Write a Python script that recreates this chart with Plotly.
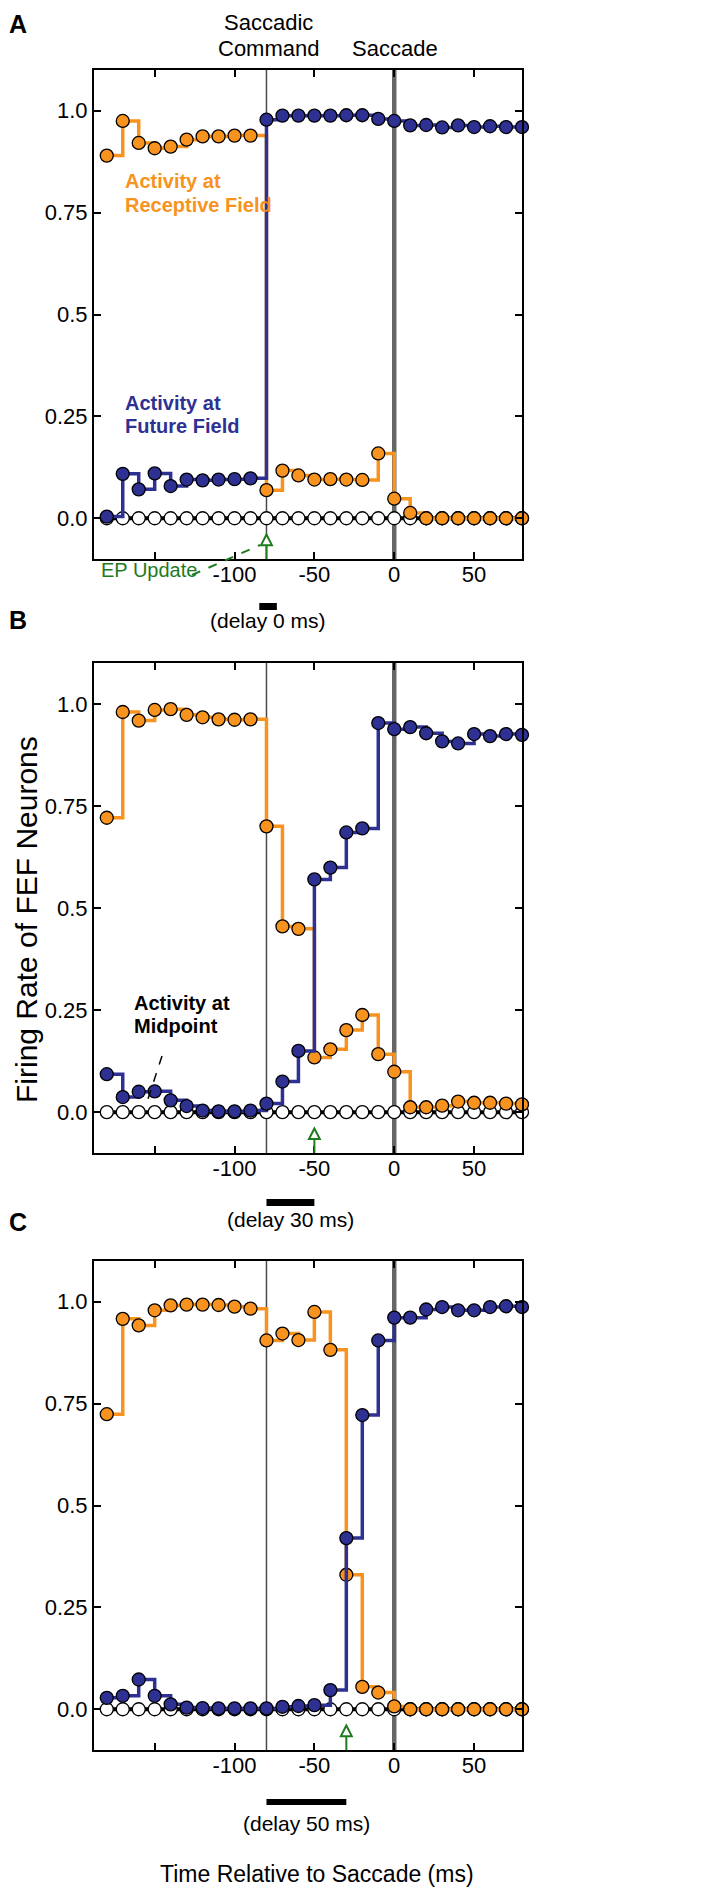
import plotly.graph_objects as go

FONT = "Liberation Sans, Arial, sans-serif"

ORANGE = "#F7931E"
NAVY = "#2E3192"
GREEN = "#1E7B1E"

time_ms = [-180, -170, -160, -150, -140, -130, -120, -110, -100, -90, -80, -70, -60, -50,
           -40, -30, -20, -10, 0, 10, 20, 30, 40, 50, 60, 70, 80]

# panel A (delay 0 ms)
rf_a = [0.890, 0.975, 0.921, 0.908, 0.912, 0.929, 0.937, 0.937, 0.939, 0.939, 0.069, 0.117, 0.105, 0.095,
        0.096, 0.095, 0.094, 0.159, 0.048, 0.013, 0.0, 0.0, 0.0, 0.0, 0.0, 0.0, 0.0]
ff_a = [0.004, 0.109, 0.071, 0.110, 0.079, 0.095, 0.093, 0.095, 0.096, 0.098, 0.978, 0.988, 0.988, 0.988,
        0.988, 0.989, 0.989, 0.980, 0.975, 0.964, 0.965, 0.959, 0.964, 0.960, 0.962, 0.960, 0.960]
mid_a = [0.0, 0.0, 0.0, 0.0, 0.0, 0.0, 0.0, 0.0, 0.0, 0.0, 0.0, 0.0, 0.0, 0.0,
         0.0, 0.0, 0.0, 0.0, 0.0, 0.0, 0.0, 0.0, 0.0, 0.0, 0.0, 0.0, 0.0]

# panel B (delay 30 ms)
rf_b = [0.721, 0.980, 0.959, 0.985, 0.987, 0.973, 0.967, 0.962, 0.961, 0.962, 0.700, 0.455, 0.449, 0.134,
        0.154, 0.201, 0.238, 0.142, 0.099, 0.012, 0.012, 0.016, 0.026, 0.023, 0.023, 0.021, 0.019]
ff_b = [0.093, 0.037, 0.050, 0.051, 0.029, 0.015, 0.004, 0.002, 0.002, 0.004, 0.021, 0.075, 0.150, 0.570,
        0.599, 0.685, 0.695, 0.953, 0.938, 0.943, 0.928, 0.908, 0.903, 0.926, 0.921, 0.926, 0.924]
mid_b = [0.0, 0.0, 0.0, 0.0, 0.0, 0.0, 0.0, 0.0, 0.0, 0.0, 0.0, 0.0, 0.0, 0.0,
         0.0, 0.0, 0.0, 0.0, 0.0, 0.0, 0.0, 0.0, 0.0, 0.0, 0.0, 0.0, 0.0]

# panel C (delay 50 ms)
rf_c = [0.724, 0.958, 0.942, 0.979, 0.991, 0.993, 0.993, 0.992, 0.988, 0.983, 0.905, 0.922, 0.906, 0.975,
        0.882, 0.330, 0.055, 0.041, 0.007, 0.0, 0.0, 0.0, 0.0, 0.0, 0.0, 0.0, 0.0]
ff_c = [0.028, 0.033, 0.073, 0.033, 0.012, 0.004, 0.003, 0.002, 0.002, 0.002, 0.002, 0.006, 0.008, 0.010,
        0.047, 0.420, 0.722, 0.905, 0.961, 0.961, 0.981, 0.987, 0.979, 0.979, 0.987, 0.989, 0.987]
mid_c = [0.0, 0.0, 0.0, 0.0, 0.0, 0.0, 0.0, 0.0, 0.0, 0.0, 0.0, 0.0, 0.0, 0.0,
         0.0, 0.0, 0.0, 0.0, 0.0, 0.0, 0.0, 0.0, 0.0, 0.0, 0.0, 0.0, 0.0]

panel_letters = ["A", "B", "C"]
delays = [0, 30, 50]
command_time = -80
saccade_time = 0
ep_update = [-80, -50, -30]
x_tickvals = [-150, -100, -50, 0, 50]
x_ticktext = ["", "-100", "-50", "0", "50"]
y_tickvals = [0, 0.25, 0.5, 0.75, 1.0]
y_ticktext = ["0.0", "0.25", "0.5", "0.75", "1.0"]

W, H = 709, 1893
L, R, T, B = 86, 514, 62, 1742


def px(x):
    return (x - L) / (R - L)


def py(y):
    return 1 - (y - T) / (B - T)


# pixel boxes of the three panels (top, bottom)
boxes = [(62, 551), (655, 1145), (1253, 1742)]
bars_y = [(595, 602), (1191, 1198), (1791, 1797)]
delay_label_y = [613, 1211, 1815]
letter_y = [16, 612, 1214]

fig = go.Figure()
panels = [(rf_a, ff_a, mid_a), (rf_b, ff_b, mid_b), (rf_c, ff_c, mid_c)]
shapes = []
annotations = []

for i, (rf, ff, mid) in enumerate(panels):
    xa = "x" if i == 0 else f"x{i + 1}"
    ya = "y" if i == 0 else f"y{i + 1}"
    common = dict(xaxis=xa, yaxis=ya, mode="lines+markers", cliponaxis=False,
                  showlegend=False, hoverinfo="x+y")
    fig.add_trace(go.Scatter(x=time_ms, y=mid, line=dict(color="black", width=4, shape="hv"),
                             marker=dict(size=13, color="white", line=dict(color="black", width=1.3)),
                             **common))
    fig.add_trace(go.Scatter(x=time_ms, y=rf, line=dict(color=ORANGE, width=3.5, shape="hv"),
                             marker=dict(size=13, color=ORANGE, line=dict(color="black", width=1.3)),
                             **common))
    fig.add_trace(go.Scatter(x=time_ms, y=ff, line=dict(color=NAVY, width=3.5, shape="hv"),
                             marker=dict(size=13, color=NAVY, line=dict(color="black", width=1.3)),
                             **common))

    top, bot = boxes[i]
    dom = [py(bot), py(top)]
    axis_common = dict(showline=True, linecolor="black", linewidth=2, mirror="ticks",
                       ticks="inside", ticklen=7, tickwidth=1.5, tickcolor="black",
                       showgrid=False, zeroline=False,
                       tickfont=dict(family=FONT, size=22, color="black"))
    fig.update_layout(**{
        ("xaxis" if i == 0 else f"xaxis{i + 1}"): dict(
            range=[-188, 80], tickvals=x_tickvals, ticktext=x_ticktext,
            ticklabelstandoff=-5, anchor=ya, domain=[0, 1], **axis_common),
        ("yaxis" if i == 0 else f"yaxis{i + 1}"): dict(
            range=[-0.1, 1.1], tickvals=y_tickvals, ticktext=y_ticktext,
            anchor=xa, domain=dom, **axis_common),
    })

    # saccadic command and saccade lines
    shapes.append(dict(type="line", xref=xa, yref=f"{ya} domain", x0=command_time, x1=command_time,
                       y0=0, y1=1, line=dict(color="#4A4A4A", width=1.5), layer="below"))
    shapes.append(dict(type="line", xref=xa, yref=f"{ya} domain", x0=saccade_time, x1=saccade_time,
                       y0=0, y1=1, line=dict(color="#666666", width=4.5), layer="below"))

    # EP update arrow
    e = ep_update[i]
    shapes.append(dict(type="line", xref=xa, yref=ya, x0=e, x1=e, y0=-0.1, y1=-0.066,
                       line=dict(color=GREEN, width=2)))
    shapes.append(dict(type="path", xref=xa, yref=ya,
                       path=f"M {e - 3.4},-0.066 L {e + 3.4},-0.066 L {e},-0.040 Z",
                       fillcolor="white", line=dict(color=GREEN, width=2)))

    # delay bar
    d = delays[i]
    bx0, bx1 = (command_time - 4.5, command_time + 6.5) if d == 0 else (command_time, command_time + d)
    shapes.append(dict(type="rect", xref=xa, yref="paper", x0=bx0, x1=bx1,
                       y0=py(bars_y[i][1]), y1=py(bars_y[i][0]),
                       fillcolor="black", line=dict(width=0)))
    annotations.append(dict(text=f"(delay {d} ms)", xref=xa, yref="paper",
                            x=(bx0 + bx1) / 2 if d == 0 else command_time + d / 2,
                            y=py(delay_label_y[i]), xanchor="center", yanchor="middle",
                            showarrow=False, font=dict(family=FONT, size=21, color="black")))
    annotations.append(dict(text=f"<b>{panel_letters[i]}</b>", xref="paper", yref="paper",
                            x=px(-1), y=py(letter_y[i]), xanchor="left", yanchor="middle",
                            showarrow=False, font=dict(family=FONT, size=25, color="black")))


def label(text, xp, yc, size, color="black", xanchor="left"):
    annotations.append(dict(text=text, xref="paper", yref="paper", x=px(xp), y=py(yc),
                            xanchor=xanchor, yanchor="middle", showarrow=False,
                            font=dict(family=FONT, size=size, color=color)))


label("Saccadic", 260, 14, 22, xanchor="center")
label("Command", 260, 40, 22, xanchor="center")
label("Saccade", 387, 40, 22, xanchor="center")
label("<b>Activity at</b>", 115, 173, 20, ORANGE)
label("<b>Receptive Field</b>", 115, 197, 20, ORANGE)
label("<b>Activity at</b>", 115, 395, 20, NAVY)
label("<b>Future Field</b>", 115, 418, 20, NAVY)
label("<b>Activity at</b>", 124, 995, 20)
label("<b>Midpoint</b>", 124, 1018, 20)
label("EP Update", 91, 562, 20, GREEN)
label("Time Relative to Saccade (ms)", 309, 1866, 23, xanchor="center")
annotations.append(dict(text="Firing Rate of FEF Neurons", xref="paper", yref="paper",
                        x=px(18), y=py(912), xanchor="center", yanchor="middle", textangle=-90,
                        showarrow=False, font=dict(family=FONT, size=30, color="black")))

# dashed leader lines
shapes.append(dict(type="line", xref="paper", yref="paper", x0=px(184), y0=py(567), x1=px(252), y1=py(537),
                   line=dict(color=GREEN, width=2, dash="dash")))
shapes.append(dict(type="line", xref="paper", yref="paper", x0=px(154), y0=py(1048), x1=px(138), y1=py(1097),
                   line=dict(color="black", width=1.5, dash="dash")))

fig.update_layout(width=W, height=H, margin=dict(l=L, r=W - R, t=T, b=H - B),
                  plot_bgcolor="white", paper_bgcolor="white",
                  shapes=shapes, annotations=annotations,
                  font=dict(family=FONT, color="black"))

fig.write_html("out.html")
